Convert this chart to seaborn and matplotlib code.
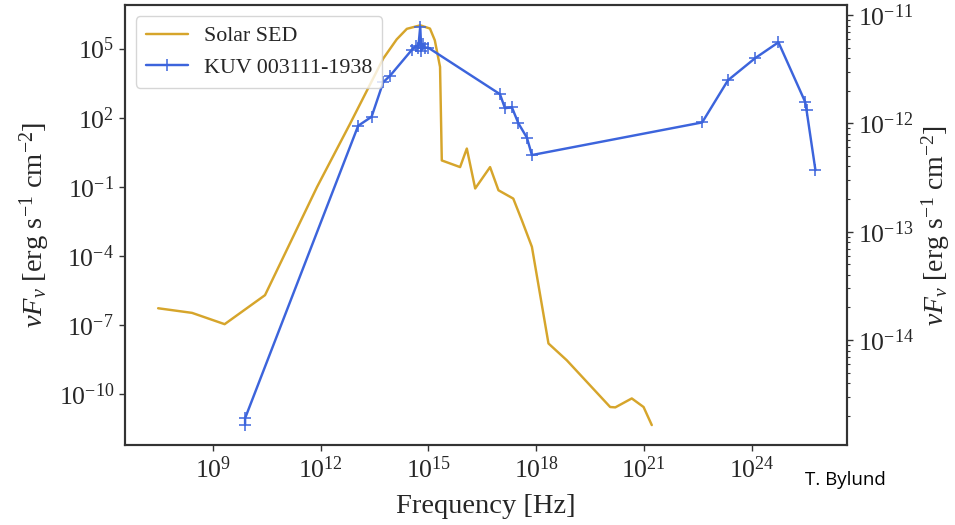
import numpy as np
import pandas as pd
import matplotlib
matplotlib.use("Agg")
import matplotlib.pyplot as plt
import matplotlib.ticker as mticker
import seaborn as sns

# Solar spectral energy distribution (left axis)
solar_freq = [2.95e7, 2.6e8, 2.1e9, 2.8e10, 7.9e11, 6.6e12, 5.5e13, 1.3e14,
              2.5e14, 5.9e14, 1.1e15, 1.5e15, 2.1e15, 2.35e15, 7.6e15, 1.17e16,
              2.0e16, 5.2e16, 8.9e16, 2.3e17, 4.0e17, 7.6e17, 2.2e18, 7.1e18,
              1.15e20, 1.6e20, 4.6e20, 9.8e20, 1.66e21]
solar_flux = [5.4e-7, 3.4e-7, 1.1e-7, 2.0e-6, 0.1, 56, 3.7e4, 2.5e5,
              7.2e5, 1.02e6, 7.4e5, 2.3e5, 1.6e4, 1.4, 0.72, 4.6,
              0.085, 0.72, 0.071, 0.031, 3.5e-3, 2.5e-4, 1.6e-8, 3.0e-9,
              2.8e-11, 2.7e-11, 6.6e-11, 2.8e-11, 4.6e-12]

# KUV 003111-1938 photometry (right axis)
kuv_freq = [7.8e9, 7.8e9, 1.1e13, 2.6e13, 5.5e13, 8.5e13, 3.5e14, 4.5e14,
            5.2e14, 5.9e14, 6.3e14, 7.1e14, 7.9e14, 9.8e14, 9.8e16, 1.35e17,
            2.1e17, 3.2e17, 5.5e17, 7.6e17, 4.2e22, 2.2e23, 1.26e24, 5.6e24,
            3.1e25, 3.4e25, 6.0e25]
kuv_flux = [1.66e-15, 1.9e-15, 9.5e-13, 1.15e-12, 2.4e-12, 2.75e-12, 4.8e-12, 5.2e-12,
            5.0e-12, 7.8e-12, 4.7e-12, 5.4e-12, 5.0e-12, 5.0e-12, 1.86e-12, 1.38e-12,
            1.41e-12, 1.0e-12, 7.4e-13, 5.1e-13, 1.02e-12, 2.5e-12, 4.0e-12, 5.6e-12,
            1.58e-12, 1.32e-12, 3.7e-13]

sns.set_style("ticks")
plt.rcParams["font.family"] = ["Liberation Serif", "DejaVu Serif"]
plt.rcParams["mathtext.fontset"] = "custom"
plt.rcParams["mathtext.rm"] = "Liberation Serif"
plt.rcParams["mathtext.it"] = "Liberation Serif:italic"
plt.rcParams["mathtext.bf"] = "Liberation Serif:bold"

solar_df = pd.DataFrame({"freq": solar_freq, "flux": solar_flux})
kuv_df = pd.DataFrame({"freq": kuv_freq, "flux": kuv_flux})

fig = plt.figure(figsize=(9.55, 5.25), dpi=100)
ax1 = fig.add_axes([0.131, 0.152, 0.756, 0.838])
ax2 = ax1.twinx()

gold = "#d6a52b"
blue = "#3c64dc"

sns.lineplot(data=solar_df, x="freq", y="flux", ax=ax1, color=gold,
             linewidth=1.75, estimator=None, sort=False, label="Solar SED",
             legend=False)
sns.lineplot(data=kuv_df, x="freq", y="flux", ax=ax2, color=blue,
             linewidth=1.75, marker="+", markersize=9, markeredgewidth=1.1,
             markeredgecolor=blue, markerfacecolor=blue,
             estimator=None, sort=False, label="KUV 003111-1938", legend=False)

for ax in (ax1, ax2):
    ax.set_xscale("log")
    ax.set_yscale("log")
ax1.set_xlim(10**6.55, 10**26.66)
ax1.set_ylim(10**-12.21, 10**6.88)
ax2.set_ylim(10**-14.97, 10**-10.91)

ylab = r"$\nu F_\nu$ [erg s$^{-1}$ cm$^{-2}$]"
ax1.set_xlabel("Frequency [Hz]", fontsize=20.5, labelpad=8)
ax1.set_ylabel(ylab, fontsize=20.5, labelpad=5)
ax2.set_ylabel(ylab, fontsize=20, labelpad=4)

for ax in (ax1, ax2):
    ax.tick_params(axis="both", which="major", labelsize=18.5, length=4,
                   width=1, color="#333333", pad=4)
    ax.tick_params(axis="both", which="minor", length=2.5, width=0.8,
                   color="#333333")
    for s in ax.spines.values():
        s.set_color("#333333")
        s.set_linewidth(1.5)
        s.set_visible(True)

ax1.xaxis.set_major_locator(mticker.FixedLocator([1e9, 1e12, 1e15, 1e18, 1e21, 1e24]))
ax1.xaxis.set_minor_locator(mticker.NullLocator())
ax1.yaxis.set_major_locator(mticker.FixedLocator([1e-10, 1e-7, 1e-4, 1e-1, 1e2, 1e5]))
ax1.yaxis.set_minor_locator(mticker.NullLocator())
ax2.yaxis.set_major_locator(mticker.FixedLocator([1e-14, 1e-13, 1e-12, 1e-11]))
ax2.yaxis.set_minor_locator(mticker.LogLocator(base=10, subs=np.arange(2, 10)))
ax2.yaxis.set_minor_formatter(mticker.NullFormatter())

h1, l1 = ax1.get_legend_handles_labels()
h2, l2 = ax2.get_legend_handles_labels()
leg = ax2.legend(h1 + h2, l1 + l2, loc="upper left", fontsize=15.8,
                 frameon=True, fancybox=True, framealpha=0.8,
                 edgecolor="#cccccc", borderaxespad=0.5,
                 handlelength=1.9, handletextpad=0.75, borderpad=0.45)

fig.text(0.843, 0.086, "T. Bylund", fontsize=13.5, family="Open Sans",
         va="center", ha="left", color="black")

fig.savefig("out.png", dpi=100)
